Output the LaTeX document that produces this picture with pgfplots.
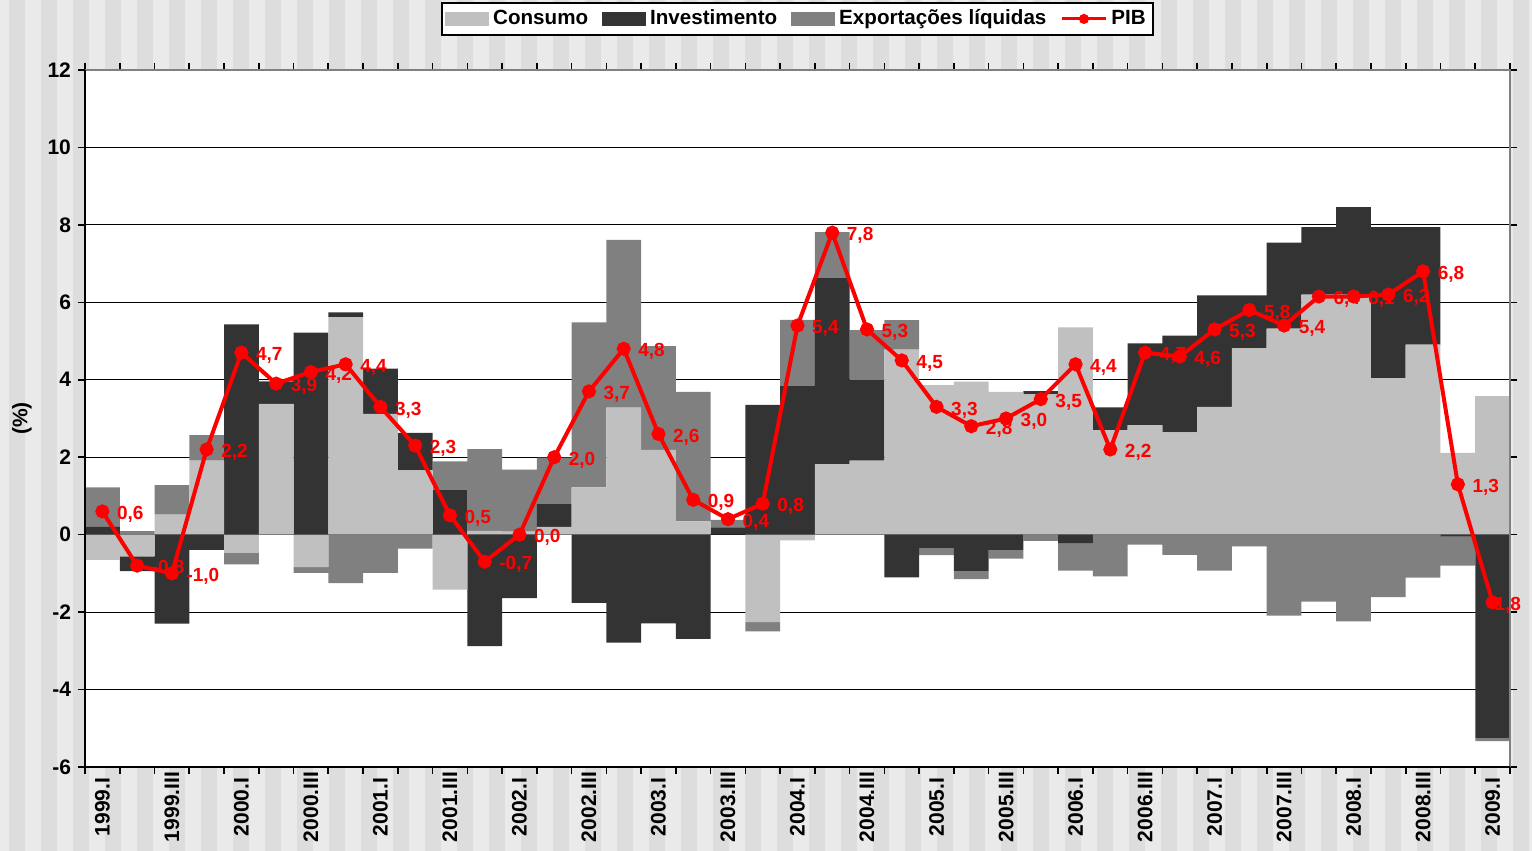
\documentclass[border=0pt]{standalone}
\usepackage{fontspec}
\setmainfont{Liberation Sans}
\usepackage{pgfplots}
\usepackage{pgfplotstable}
\pgfplotsset{compat=1.18}

\definecolor{consumo}{HTML}{C0C0C0}
\definecolor{invest}{HTML}{333333}
\definecolor{export}{HTML}{808080}
\definecolor{stripeA}{HTML}{EAEAEA}
\definecolor{stripeB}{HTML}{DDDDDD}

% contributions to GDP growth (p.p.), 1999.I - 2009.I
% dx = horizontal shift of the PIB label (pt)
\pgfplotstableread{
n  C      I      X      P     L     dx
0  -0.65  0.20   1.02   0.6   0,6   3
1  -0.56  -0.38  0.09   -0.8  -0,8  3
2  0.52   -2.30  0.76   -1.0  -1,0  3
3  1.91   -0.39  0.66   2.2   2,2   3
4  -0.47  5.43   -0.30  4.7   4,7   3
5  3.38   0.57   0.02   3.9   3,9   3
6  -0.84  5.22   -0.15  4.2   4,2   3
7  5.62   0.12   -1.25  4.4   4,4   3
8  3.12   1.17   -0.99  3.3   3,3   3
9  1.66   0.97   -0.36  2.3   2,3   3
10 -1.42  1.16   0.73   0.5   0,5   3
11 0.10   -2.88  2.11   -0.7  -0,7  3
12 0.08   -1.64  1.60   0.0   0,0   3
13 0.20   0.59   1.20   2.0   2,0   3
14 1.22   -1.76  4.26   3.7   3,7   3
15 3.28   -2.79  4.33   4.8   4,8   3
16 2.19   -2.29  2.68   2.6   2,6   3
17 0.34   -2.69  3.35   0.9   0,9   3
18 0.00   0.19   0.19   0.4   0,4   3
19 -2.26  3.35   -0.24  0.8   0,8   3
20 -0.15  3.85   1.70   5.4   5,4   3
21 1.82   4.82   1.17   7.8   7,8   3
22 1.91   2.08   1.29   5.3   5,3   3
23 4.78   -1.10  0.76   4.5   4,5   3
24 3.86   -0.34  -0.19  3.3   3,3   3
25 3.95   -0.95  -0.20  2.8   2,8   3
26 3.69   -0.39  -0.23  3.0   3,0   3
27 3.62   0.09   -0.16  3.5   3,5   3
28 5.35   -0.22  -0.71  4.4   4,4   3
29 2.70   0.59   -1.08  2.2   2,2   3
30 2.83   2.11   -0.26  4.7   4,7   3
31 2.64   2.50   -0.52  4.6   4,6   3
32 3.30   2.88   -0.93  5.3   5,3   3
33 4.81   1.37   -0.30  5.8   5,8   3
34 5.32   2.22   -2.09  5.4   5,4   3
35 6.20   1.74   -1.73  6.15  6,4   3
36 6.20   2.26   -2.24  6.15  6,1   3
37 4.04   3.90   -1.61  6.2   6,2   3
38 4.91   3.03   -1.11  6.8   6,8   3
39 2.11   -0.05  -0.75  1.3   1,3   3
40 3.58   -5.25  -0.08  -1.75 -1,8  -6.5
}\contrib

\pgfplotsset{
  common/.style={
    at={(42.5pt,42pt)}, anchor=south west,
    scale only axis, width=712.5pt, height=348.5pt,
    xmin=-0.5, xmax=40.5, ymin=-6, ymax=12,
  },
}

\begin{document}
\begin{tikzpicture}
\path[use as bounding box] (0,0) rectangle (766pt,425.5pt);
\fill[stripeA] (0,0) rectangle (766pt,425.5pt);
\foreach \i in {0,...,47} {
  \fill[stripeB] ({4.5pt+16pt*\i},0) rectangle ++(8pt,425.5pt);
}

% positive parts, grid, ticks, legend
\begin{axis}[common,
  ybar stacked, bar width=1,
  axis line style={draw=none},
  axis background/.style={fill=white},
  ymajorgrids, grid style={black, line width=0.6pt},
  ytick={-6,-4,...,12},
  xtick={-0.5,0.5,...,40.5}, xticklabels={},
  extra x ticks={0,2,...,40},
  extra x tick labels={1999.I,1999.III,2000.I,2000.III,2001.I,2001.III,2002.I,2002.III,2003.I,2003.III,2004.I,2004.III,2005.I,2005.III,2006.I,2006.III,2007.I,2007.III,2008.I,2008.III,2009.I},
  extra x tick style={major tick length=0pt},
  tick align=outside, major tick length=3.5pt,
  tick style={black, line width=0.8pt},
  ticklabel style={font=\bfseries\fontsize{10.5}{12}\selectfont},
  /pgf/number format/assume math mode=true,
  xticklabel style={yshift=-20pt, rotate=90, anchor=center},
  ylabel={(\%)},
  every axis y label/.style={at={(rel axis cs:0,0.5)}, xshift=-31.5pt, rotate=90, anchor=center, font=\bfseries\fontsize{10.5}{12}\selectfont},
  legend style={at={(0.5,1)}, anchor=south, yshift=17pt, draw=black, line width=1pt, fill=white,
    font=\bfseries\fontsize{10.3}{12}\selectfont, inner sep=1.5pt,
    /tikz/every even column/.append style={column sep=5pt}},
  legend columns=-1,
  legend image code/.code={\fill[#1] (0pt,-3.5pt) rectangle (22pt,3.5pt);},
]
\addplot[fill=consumo, draw=none] table[x=n, y expr={max(\thisrow{C},0)}] {\contrib};
\addlegendentry{Consumo}
\addplot[fill=invest, draw=none] table[x=n, y expr={max(\thisrow{I},0)}] {\contrib};
\addlegendentry{Investimento}
\addplot[fill=export, draw=none] table[x=n, y expr={max(\thisrow{X},0)}] {\contrib};
\addlegendentry{Exportações líquidas}
\addlegendimage{legend image code/.code={
  \draw[red, line width=1.5pt] (0pt,0pt) -- (22pt,0pt);
  \fill[red] (11pt,0pt) circle (2pt);}}
\addlegendentry{PIB}
\end{axis}

% negative parts, stacked downwards
\begin{axis}[common, hide axis, ybar stacked, bar width=1]
\addplot[fill=consumo, draw=none] table[x=n, y expr={min(\thisrow{C},0)}] {\contrib};
\addplot[fill=invest, draw=none] table[x=n, y expr={min(\thisrow{I},0)}] {\contrib};
\addplot[fill=export, draw=none] table[x=n, y expr={min(\thisrow{X},0)}] {\contrib};
\end{axis}

% PIB line and frame
\begin{axis}[common, hide axis, clip=false]
\addplot[red, line width=2pt, mark=*, mark size=2.5pt,
  nodes near coords, point meta=explicit symbolic,
  visualization depends on={\thisrow{dx} \as \dx},
  nodes near coords style={anchor=west, xshift=\dx pt, yshift=-1.5pt, text=red,
    font=\bfseries\fontsize{9.5}{11}\selectfont}]
  table[x=n, y=P, meta=L] {\contrib};
\draw[export, line width=1pt] (rel axis cs:0,1) -- (rel axis cs:1,1) -- (rel axis cs:1,0);
\draw[black, line width=1pt] (rel axis cs:0,1) -- (rel axis cs:0,0) -- (rel axis cs:1,0);
\end{axis}
\end{tikzpicture}
\end{document}
